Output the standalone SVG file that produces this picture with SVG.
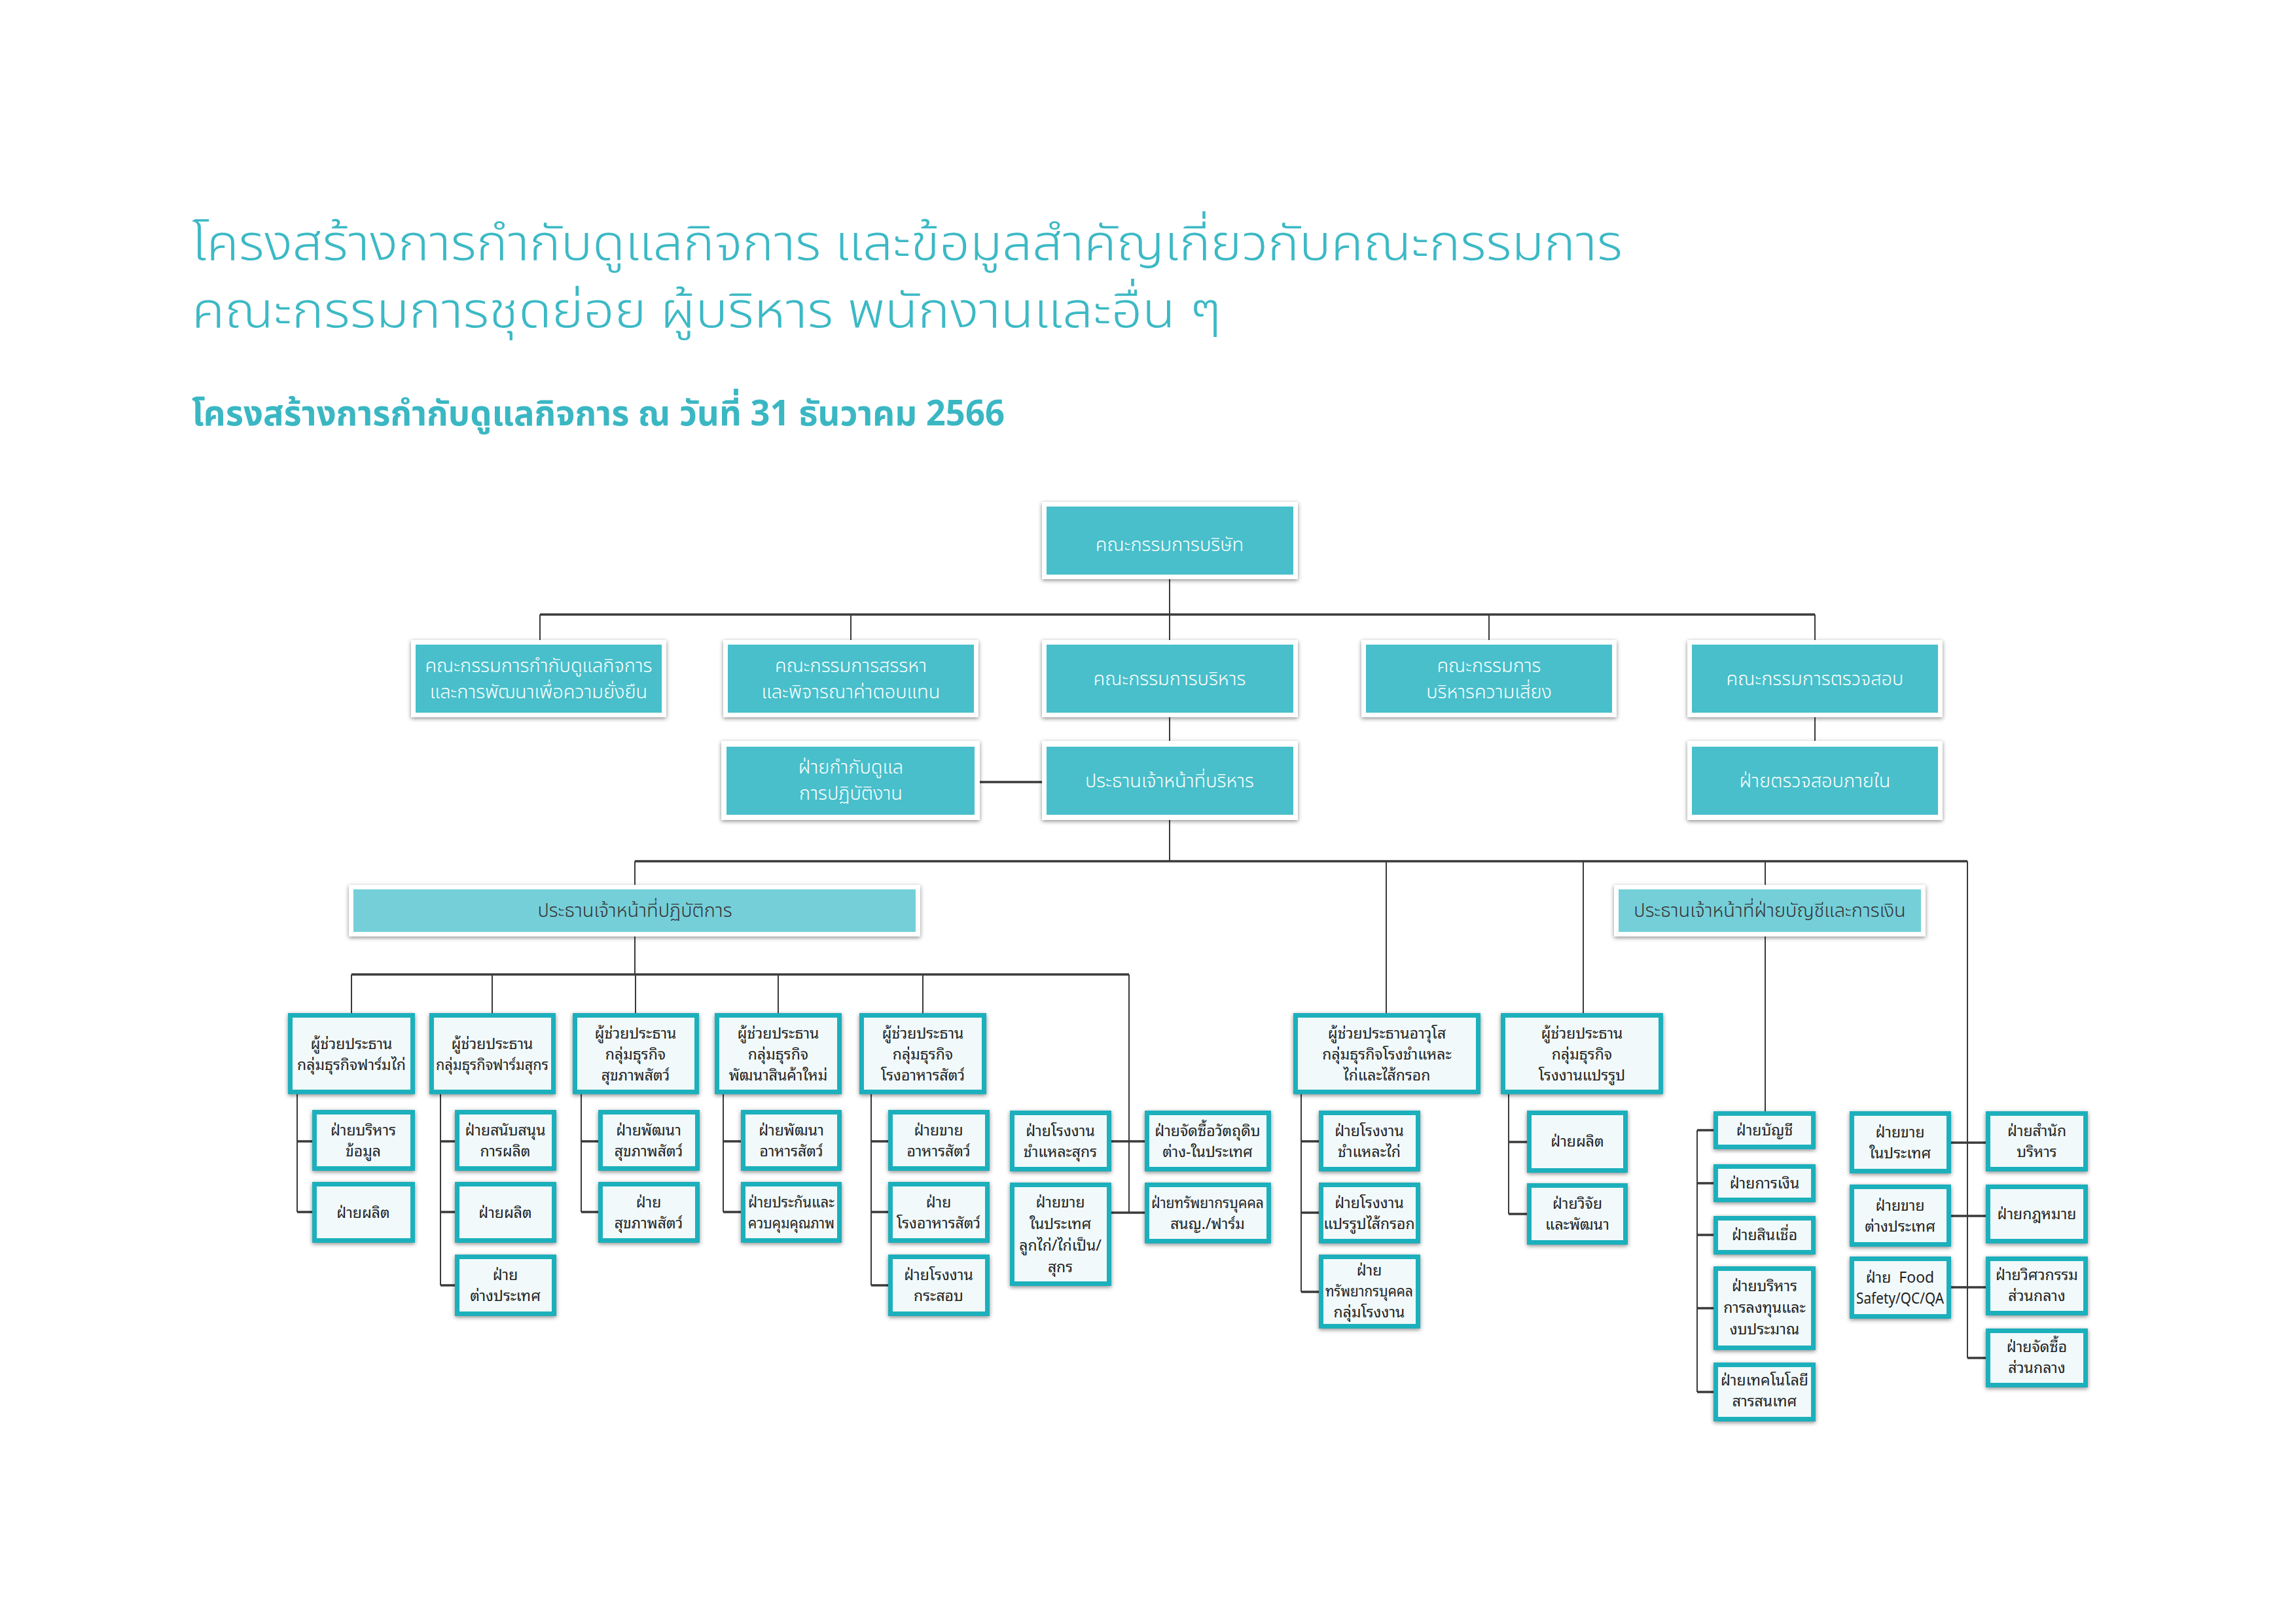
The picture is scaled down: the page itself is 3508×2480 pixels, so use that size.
<svg xmlns="http://www.w3.org/2000/svg" width="3508" height="2480" viewBox="0 0 3508 2480">
<defs>
<filter id="sh" x="-10%" y="-20%" width="120%" height="140%">
<feDropShadow dx="0" dy="2" stdDeviation="3" flood-color="#000" flood-opacity="0.45"/>
</filter>
<style>
.t1{fill:#3cb9c5;font-family:'Noto Sans Thai','Noto Sans',sans-serif;font-weight:300}
.t2{fill:#3ab7c3;font-family:'Noto Sans Thai','Noto Sans',sans-serif;font-weight:700}
.wb{fill:#fff;filter:url(#sh)}
.tb{fill:#48bfcb}
.lb{fill:#75cfd9}
.sb{fill:#f1f9fa;stroke:#1fb0bc;stroke-width:7;filter:url(#sh)}
.tw{fill:#fff;font-family:'Noto Sans Thai','Noto Sans',sans-serif;font-size:29px;font-weight:300;text-anchor:middle}
.td{fill:#333;font-family:'Noto Sans Thai','Noto Sans',sans-serif;font-size:29px;font-weight:300;text-anchor:middle}
.ts{fill:#222;font-family:'Noto Sans Thai Looped','Noto Serif Thai','Noto Sans Thai',sans-serif;font-size:23px;text-anchor:middle}
.c{stroke:#3a3a3a;stroke-width:2;fill:none}
.cb{stroke:#3a3a3a;stroke-width:3.5;fill:none}
</style>
</defs>
<rect width="3508" height="2480" fill="#fff"/>
<g id="title">
<text class="t1" x="293" y="397" font-size="75" textLength="2186" lengthAdjust="spacingAndGlyphs">โครงสร้างการกำกับดูแลกิจการ และข้อมูลสำคัญเกี่ยวกับคณะกรรมการ</text>
<text class="t1" x="293" y="500" font-size="75" textLength="1573" lengthAdjust="spacingAndGlyphs">คณะกรรมการชุดย่อย ผู้บริหาร พนักงานและอื่น ๆ</text>
<text class="t2" x="293" y="650" font-size="54" textLength="1242" lengthAdjust="spacingAndGlyphs">โครงสร้างการกำกับดูแลกิจการ ณ วันที่ 31 ธันวาคม 2566</text>
</g>
<g id="connectors">
<path class="c" d="M1787 885V939M825 939V978M1300 939V978M1787 939V978M2275 939V978M2773 939V978"/>
<path class="cb" d="M825 939H2773"/>
<path class="c" d="M1787 1096V1132M2773 1096V1132"/>
<path class="cb" d="M1497 1195H1592"/>
<path class="c" d="M1787 1253V1316M970 1316V1352M2118 1316V1548M2419 1316V1548M2697 1316V1352M3006 1316V2075"/>
<path class="cb" d="M970 1316H3006"/>
<path class="c" d="M970 1431V1489M537 1489V1548M752 1489V1548M971 1489V1548M1189 1489V1548M1410 1489V1548M1725 1489V1853"/>
<path class="cb" d="M537 1489H1725"/>
<path class="c" d="M454 1672V1852M673 1672V1964M888 1672V1852M1105 1672V1852M1331 1672V1964M1988 1672V1974M2305 1672V1855M2697 1431V1698M2593 1727V2127"/>
<path class="cb" d="M454 1744H477M454 1852H477M673 1744H695M673 1852H695M673 1964H695M888 1744H914M888 1852H914M1105 1744H1132M1105 1852H1132M1331 1744H1357M1331 1852H1357M1331 1964H1357M1698 1744H1749M1698 1853H1749M1988 1744H2015M1988 1853H2015M1988 1974H2015M2305 1745H2333M2305 1855H2333M2593 1727H2618M2593 1808H2618M2593 1887H2618M2593 1999H2618M2593 2127H2618M2981 1746H3034M2981 1858H3034M2981 1967H3034M3006 2075H3034"/>
</g>
<g id="n-board"><rect class="wb" x="1592" y="767" width="391" height="118"/><rect class="tb" x="1599" y="774" width="377" height="104"/><text class="tw" x="1787" y="842" font-size="46">คณะกรรมการบริษัท</text></g>
<g id="n-cg"><rect class="wb" x="628" y="978" width="390" height="118"/><rect class="tb" x="635" y="985" width="376" height="104"/><text class="tw" x="823" y="1027">คณะกรรมการกำกับดูแลกิจการ</text><text class="tw" x="823" y="1067">และการพัฒนาเพื่อความยั่งยืน</text></g>
<g id="n-nom"><rect class="wb" x="1105" y="978" width="390" height="118"/><rect class="tb" x="1112" y="985" width="376" height="104"/><text class="tw" x="1300" y="1027">คณะกรรมการสรรหา</text><text class="tw" x="1300" y="1067">และพิจารณาค่าตอบแทน</text></g>
<g id="n-exec"><rect class="wb" x="1592" y="978" width="391" height="118"/><rect class="tb" x="1599" y="985" width="377" height="104"/><text class="tw" x="1787" y="1047">คณะกรรมการบริหาร</text></g>
<g id="n-risk"><rect class="wb" x="2080" y="978" width="390" height="118"/><rect class="tb" x="2087" y="985" width="376" height="104"/><text class="tw" x="2275" y="1027">คณะกรรมการ</text><text class="tw" x="2275" y="1067">บริหารความเสี่ยง</text></g>
<g id="n-audit"><rect class="wb" x="2578" y="978" width="390" height="118"/><rect class="tb" x="2585" y="985" width="376" height="104"/><text class="tw" x="2773" y="1047">คณะกรรมการตรวจสอบ</text></g>
<g id="n-comp"><rect class="wb" x="1102" y="1132" width="395" height="121"/><rect class="tb" x="1110" y="1141" width="379" height="104"/><text class="tw" x="1300" y="1182">ฝ่ายกำกับดูแล</text><text class="tw" x="1300" y="1222">การปฏิบัติงาน</text></g>
<g id="n-ceo"><rect class="wb" x="1592" y="1132" width="391" height="121"/><rect class="tb" x="1599" y="1141" width="377" height="104"/><text class="tw" x="1787" y="1203">ประธานเจ้าหน้าที่บริหาร</text></g>
<g id="n-ia"><rect class="wb" x="2578" y="1132" width="390" height="121"/><rect class="tb" x="2585" y="1141" width="376" height="104"/><text class="tw" x="2773" y="1203">ฝ่ายตรวจสอบภายใน</text></g>
<g id="n-coo"><rect class="wb" x="533" y="1352" width="873" height="79"/><rect class="lb" x="540" y="1359" width="859" height="65"/><text class="td" x="970" y="1401">ประธานเจ้าหน้าที่ปฏิบัติการ</text></g>
<g id="n-cfo"><rect class="wb" x="2466" y="1352" width="476" height="79"/><rect class="lb" x="2473" y="1359" width="462" height="65"/><text class="td" x="2704" y="1401">ประธานเจ้าหน้าที่ฝ่ายบัญชีและการเงิน</text></g>
<g id="n-a1"><rect class="sb" x="443.5" y="1551.5" width="187" height="117"/><text class="ts" x="537" y="1603">ผู้ช่วยประธาน</text><text class="ts" x="537" y="1635">กลุ่มธุรกิจฟาร์มไก่</text></g>
<g id="n-a2"><rect class="sb" x="659.5" y="1551.5" width="186" height="117"/><text class="ts" x="752" y="1603">ผู้ช่วยประธาน</text><text class="ts" x="752" y="1635" textLength="172" lengthAdjust="spacingAndGlyphs">กลุ่มธุรกิจฟาร์มสุกร</text></g>
<g id="n-a3"><rect class="sb" x="878.5" y="1551.5" width="186" height="117"/><text class="ts" x="971" y="1587">ผู้ช่วยประธาน</text><text class="ts" x="971" y="1619">กลุ่มธุรกิจ</text><text class="ts" x="971" y="1651">สุขภาพสัตว์</text></g>
<g id="n-a4"><rect class="sb" x="1095.5" y="1551.5" width="187" height="117"/><text class="ts" x="1189" y="1587">ผู้ช่วยประธาน</text><text class="ts" x="1189" y="1619">กลุ่มธุรกิจ</text><text class="ts" x="1189" y="1651">พัฒนาสินค้าใหม่</text></g>
<g id="n-a5"><rect class="sb" x="1316.5" y="1551.5" width="187" height="117"/><text class="ts" x="1410" y="1587">ผู้ช่วยประธาน</text><text class="ts" x="1410" y="1619">กลุ่มธุรกิจ</text><text class="ts" x="1410" y="1651">โรงอาหารสัตว์</text></g>
<g id="n-a6"><rect class="sb" x="1979.5" y="1551.5" width="279" height="117"/><text class="ts" x="2119" y="1587">ผู้ช่วยประธานอาวุโส</text><text class="ts" x="2119" y="1619">กลุ่มธุรกิจโรงชำแหละ</text><text class="ts" x="2119" y="1651">ไก่และไส้กรอก</text></g>
<g id="n-a7"><rect class="sb" x="2296.5" y="1551.5" width="241" height="117"/><text class="ts" x="2417" y="1587">ผู้ช่วยประธาน</text><text class="ts" x="2417" y="1619">กลุ่มธุรกิจ</text><text class="ts" x="2417" y="1651">โรงงานแปรรูป</text></g>
<g id="n-s1a"><rect class="sb" x="480.5" y="1699.5" width="150" height="86"/><text class="ts" x="555" y="1735">ฝ่ายบริหาร</text><text class="ts" x="555" y="1767">ข้อมูล</text></g>
<g id="n-s1b"><rect class="sb" x="480.5" y="1809.5" width="150" height="86"/><text class="ts" x="555" y="1861">ฝ่ายผลิต</text></g>
<g id="n-s2a"><rect class="sb" x="698.5" y="1699.5" width="148" height="86"/><text class="ts" x="772" y="1735">ฝ่ายสนับสนุน</text><text class="ts" x="772" y="1767">การผลิต</text></g>
<g id="n-s2b"><rect class="sb" x="698.5" y="1809.5" width="148" height="86"/><text class="ts" x="772" y="1861">ฝ่ายผลิต</text></g>
<g id="n-s2c"><rect class="sb" x="698.5" y="1920.5" width="148" height="87"/><text class="ts" x="772" y="1956">ฝ่าย</text><text class="ts" x="772" y="1988">ต่างประเทศ</text></g>
<g id="n-s3a"><rect class="sb" x="917.5" y="1699.5" width="148" height="86"/><text class="ts" x="991" y="1735">ฝ่ายพัฒนา</text><text class="ts" x="991" y="1767">สุขภาพสัตว์</text></g>
<g id="n-s3b"><rect class="sb" x="917.5" y="1809.5" width="148" height="86"/><text class="ts" x="991" y="1845">ฝ่าย</text><text class="ts" x="991" y="1877">สุขภาพสัตว์</text></g>
<g id="n-s4a"><rect class="sb" x="1135.5" y="1699.5" width="147" height="86"/><text class="ts" x="1209" y="1735">ฝ่ายพัฒนา</text><text class="ts" x="1209" y="1767">อาหารสัตว์</text></g>
<g id="n-s4b"><rect class="sb" x="1135.5" y="1809.5" width="147" height="86"/><text class="ts" x="1209" y="1845" textLength="132" lengthAdjust="spacingAndGlyphs">ฝ่ายประกันและ</text><text class="ts" x="1209" y="1877" textLength="132" lengthAdjust="spacingAndGlyphs">ควบคุมคุณภาพ</text></g>
<g id="n-s5a"><rect class="sb" x="1360.5" y="1699.5" width="148" height="86"/><text class="ts" x="1434" y="1735">ฝ่ายขาย</text><text class="ts" x="1434" y="1767">อาหารสัตว์</text></g>
<g id="n-s5b"><rect class="sb" x="1360.5" y="1809.5" width="148" height="86"/><text class="ts" x="1434" y="1845">ฝ่าย</text><text class="ts" x="1434" y="1877">โรงอาหารสัตว์</text></g>
<g id="n-s5c"><rect class="sb" x="1360.5" y="1920.5" width="148" height="87"/><text class="ts" x="1434" y="1956">ฝ่ายโรงงาน</text><text class="ts" x="1434" y="1988">กระสอบ</text></g>
<g id="n-s6a"><rect class="sb" x="1546.5" y="1700.5" width="148" height="86"/><text class="ts" x="1620" y="1736">ฝ่ายโรงงาน</text><text class="ts" x="1620" y="1768">ชำแหละสุกร</text></g>
<g id="n-s6b"><rect class="sb" x="1546.5" y="1810.5" width="148" height="151"/><text class="ts" x="1620" y="1845">ฝ่ายขาย</text><text class="ts" x="1620" y="1878">ในประเทศ</text><text class="ts" x="1620" y="1911">ลูกไก่/ไก่เป็น/</text><text class="ts" x="1620" y="1944">สุกร</text></g>
<g id="n-s7a"><rect class="sb" x="1752.5" y="1700.5" width="186" height="86"/><text class="ts" x="1845" y="1736">ฝ่ายจัดซื้อวัตถุดิบ</text><text class="ts" x="1845" y="1768">ต่าง-ในประเทศ</text></g>
<g id="n-s7b"><rect class="sb" x="1752.5" y="1810.5" width="186" height="86"/><text class="ts" x="1845" y="1846" textLength="172" lengthAdjust="spacingAndGlyphs">ฝ่ายทรัพยากรบุคคล</text><text class="ts" x="1845" y="1878">สนญ./ฟาร์ม</text></g>
<g id="n-s8a"><rect class="sb" x="2018.5" y="1700.5" width="148" height="86"/><text class="ts" x="2092" y="1736">ฝ่ายโรงงาน</text><text class="ts" x="2092" y="1768">ชำแหละไก่</text></g>
<g id="n-s8b"><rect class="sb" x="2018.5" y="1810.5" width="148" height="86"/><text class="ts" x="2092" y="1846">ฝ่ายโรงงาน</text><text class="ts" x="2092" y="1878">แปรรูปไส้กรอก</text></g>
<g id="n-s8c"><rect class="sb" x="2018.5" y="1920.5" width="148" height="106"/><text class="ts" x="2092" y="1949">ฝ่าย</text><text class="ts" x="2092" y="1981" textLength="134" lengthAdjust="spacingAndGlyphs">ทรัพยากรบุคคล</text><text class="ts" x="2092" y="2013">กลุ่มโรงงาน</text></g>
<g id="n-s9a"><rect class="sb" x="2336.5" y="1700.5" width="147" height="88"/><text class="ts" x="2410" y="1752">ฝ่ายผลิต</text></g>
<g id="n-s9b"><rect class="sb" x="2336.5" y="1811.5" width="147" height="87"/><text class="ts" x="2410" y="1847">ฝ่ายวิจัย</text><text class="ts" x="2410" y="1879">และพัฒนา</text></g>
<g id="n-f1"><rect class="sb" x="2621.5" y="1701.5" width="149" height="51"/><text class="ts" x="2696" y="1735">ฝ่ายบัญชี</text></g>
<g id="n-f2"><rect class="sb" x="2621.5" y="1782.5" width="149" height="51"/><text class="ts" x="2696" y="1816">ฝ่ายการเงิน</text></g>
<g id="n-f3"><rect class="sb" x="2621.5" y="1861.5" width="149" height="52"/><text class="ts" x="2696" y="1895">ฝ่ายสินเชื่อ</text></g>
<g id="n-f4"><rect class="sb" x="2621.5" y="1938.5" width="149" height="121"/><text class="ts" x="2696" y="1973">ฝ่ายบริหาร</text><text class="ts" x="2696" y="2006">การลงทุนและ</text><text class="ts" x="2696" y="2039">งบประมาณ</text></g>
<g id="n-f5"><rect class="sb" x="2621.5" y="2085.5" width="149" height="83"/><text class="ts" x="2696" y="2117" textLength="134" lengthAdjust="spacingAndGlyphs">ฝ่ายเทคโนโลยี</text><text class="ts" x="2696" y="2149">สารสนเทศ</text></g>
<g id="n-m1"><rect class="sb" x="2829.5" y="1701.5" width="148" height="88"/><text class="ts" x="2903" y="1738">ฝ่ายขาย</text><text class="ts" x="2903" y="1770">ในประเทศ</text></g>
<g id="n-m2"><rect class="sb" x="2829.5" y="1813.5" width="148" height="88"/><text class="ts" x="2903" y="1850">ฝ่ายขาย</text><text class="ts" x="2903" y="1882">ต่างประเทศ</text></g>
<g id="n-m3"><rect class="sb" x="2829.5" y="1923.5" width="148" height="88"/><text class="ts" x="2903" y="1960">ฝ่าย&#160; Food</text><text class="ts" x="2903" y="1992" textLength="134" lengthAdjust="spacingAndGlyphs">Safety/QC/QA</text></g>
<g id="n-r1"><rect class="sb" x="3037.5" y="1701.5" width="149" height="85"/><text class="ts" x="3112" y="1736">ฝ่ายสำนัก</text><text class="ts" x="3112" y="1768">บริหาร</text></g>
<g id="n-r2"><rect class="sb" x="3037.5" y="1813.5" width="149" height="83"/><text class="ts" x="3112" y="1863">ฝ่ายกฎหมาย</text></g>
<g id="n-r3"><rect class="sb" x="3037.5" y="1923.5" width="149" height="83"/><text class="ts" x="3112" y="1956">ฝ่ายวิศวกรรม</text><text class="ts" x="3112" y="1988">ส่วนกลาง</text></g>
<g id="n-r4"><rect class="sb" x="3037.5" y="2033.5" width="149" height="83"/><text class="ts" x="3112" y="2066">ฝ่ายจัดซื้อ</text><text class="ts" x="3112" y="2098">ส่วนกลาง</text></g>
</svg>
